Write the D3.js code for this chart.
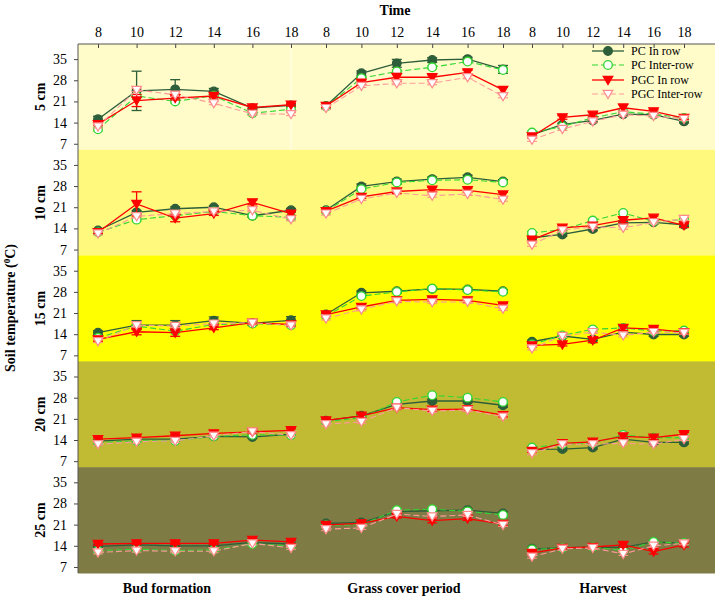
<!DOCTYPE html>
<html>
<head>
<meta charset="utf-8">
<script src="https://cdn.jsdelivr.net/npm/d3@7/dist/d3.min.js"></script>
<style>
  body { margin: 0; background: #fff; }
  svg { display: block; }
  text { font-family: "Liberation Serif", "Times New Roman", serif; }
</style>
</head>
<body>
<svg id="chart" width="719" height="599"></svg>
<script>
// ---------------- DATA ----------------
const hours = [8, 10, 12, 14, 16, 18];
const yTicks = [7, 14, 21, 28, 35];
const depths = ["5 cm", "10 cm", "15 cm", "20 cm", "25 cm"];
const periods = ["Bud formation", "Grass cover period", "Harvest"];
const seriesNames = ["PC In row", "PC Inter-row", "PGC In row", "PGC Inter-row"];

// each array: [Bud formation, Grass cover period, Harvest], values at hours 8..18
const pcIn_5   = [[15.1, 24.5, 25.0, 24.3, 18.8, 19.7], [19.5, 30.3, 33.6, 34.7, 35.0, 31.6], [10.0, 13.3, 14.7, 16.8, 16.6, 14.4]];
const pcInt_5  = [[11.8, 22.8, 21.0, 22.9, 17.1, 18.4], [19.3, 28.7, 30.9, 32.3, 34.2, 31.4], [10.7, 12.7, 15.6, 17.6, 16.8, 15.5]];
const pgcIn_5  = [[13.5, 21.3, 22.1, 22.8, 19.0, 19.9], [19.5, 27.2, 29.0, 29.0, 30.6, 24.8], [9.4, 15.7, 16.6, 18.9, 17.7, 15.5]];
const pgcInt_5 = [[12.7, 24.8, 23.2, 20.4, 16.9, 16.8], [18.8, 26.1, 27.0, 27.0, 29.0, 22.7], [8.3, 11.9, 14.4, 16.6, 16.2, 15.2]];

const pcIn_10   = [[13.3, 19.3, 20.5, 21.0, 18.2, 20.0], [20.0, 27.9, 29.5, 30.3, 30.9, 29.5], [10.9, 12.0, 13.8, 15.8, 16.0, 15.2]];
const pcInt_10  = [[12.7, 16.9, 18.2, 19.6, 18.2, 17.7], [19.7, 27.0, 29.2, 29.9, 30.1, 29.2], [12.5, 13.6, 16.6, 19.1, 16.3, 16.9]];
const pgcIn_10  = [[12.7, 22.1, 17.4, 18.9, 22.6, 18.9], [19.7, 24.4, 26.2, 26.8, 26.6, 25.2], [10.3, 14.2, 14.9, 16.7, 17.5, 15.0]];
const pgcInt_10 = [[12.3, 18.0, 18.9, 19.6, 20.0, 17.0], [18.9, 23.7, 25.7, 24.8, 25.4, 23.5], [8.6, 13.4, 14.5, 14.2, 16.0, 17.1]];

const pcIn_15   = [[14.5, 17.0, 17.0, 18.5, 17.6, 18.6], [20.5, 27.7, 28.2, 29.0, 28.8, 28.2], [11.5, 13.4, 12.3, 14.7, 13.9, 13.9]];
const pcInt_15  = [[12.8, 16.7, 15.0, 17.2, 17.5, 17.0], [20.0, 26.6, 28.0, 29.1, 28.6, 28.0], [10.6, 13.6, 15.6, 16.1, 15.0, 15.2]];
const pgcIn_15  = [[12.3, 14.8, 14.5, 16.1, 17.8, 17.2], [20.5, 23.0, 25.2, 25.5, 25.2, 23.5], [10.3, 10.6, 12.0, 16.1, 15.7, 14.7]];
const pgcInt_15 = [[11.7, 17.0, 16.7, 17.5, 17.8, 16.9], [19.2, 22.2, 24.9, 24.6, 24.7, 22.4], [9.3, 13.4, 14.7, 13.6, 14.7, 14.5]];

const pcIn_20   = [[13.6, 14.3, 14.3, 15.2, 15.0, 15.9], [20.4, 22.0, 25.8, 26.9, 26.9, 25.5], [10.9, 11.0, 11.5, 14.3, 13.2, 13.2]];
const pcInt_20  = [[13.2, 13.7, 13.7, 15.2, 15.7, 15.6], [20.0, 21.4, 26.6, 28.8, 28.0, 26.6], [11.5, 12.6, 12.9, 15.7, 14.8, 14.8]];
const pgcIn_20  = [[14.3, 14.8, 15.4, 16.2, 16.7, 17.2], [20.5, 22.0, 24.7, 24.0, 24.2, 22.2], [10.4, 12.9, 13.4, 15.2, 14.8, 15.9]];
const pgcInt_20 = [[12.6, 13.4, 13.7, 15.4, 16.8, 15.6], [19.2, 20.0, 24.7, 23.6, 23.9, 21.7], [9.6, 12.6, 12.6, 12.9, 12.6, 14.3]];

const pcIn_25   = [[13.8, 14.3, 14.0, 14.0, 15.1, 14.6], [21.4, 21.7, 25.3, 25.6, 25.8, 24.7], [13.0, 13.3, 13.6, 13.5, 15.3, 14.8]];
const pcInt_25  = [[12.4, 12.9, 12.4, 12.7, 14.6, 14.0], [20.8, 21.0, 25.8, 26.1, 25.4, 24.2], [12.8, 13.3, 13.6, 12.4, 15.3, 14.9]];
const pgcIn_25  = [[14.6, 14.8, 14.8, 14.8, 15.9, 15.3], [20.9, 21.4, 23.7, 22.3, 23.0, 21.2], [11.6, 13.3, 13.6, 14.3, 12.1, 14.3]];
const pgcInt_25 = [[11.8, 12.4, 12.2, 12.2, 14.8, 13.3], [19.5, 19.9, 24.5, 23.7, 24.2, 20.9], [10.4, 13.0, 13.3, 11.3, 14.0, 14.8]];

// standard errors (visible error bars)
const pcInErr_5  = [[1.0, 6.5, 3.2, 1.0, 0.6, 0.6], [0.5, 0.8, 1.3, 0.8, 0.6, 1.3], [0.4, 0.5, 0.5, 0.6, 0.5, 0.5]];
const pgcInErr_5 = [[0.5, 2.0, 0.6, 0.6, 0.4, 0.4], [0.5, 0.6, 1.3, 0.8, 0.7, 0.9], [0.5, 0.6, 0.7, 1.2, 0.5, 0.5]];
const pcInErr_10  = [[0.4, 0.6, 0.6, 0.5, 0.5, 0.6], [0.4, 0.8, 0.8, 0.7, 0.7, 0.6], [0.4, 0.5, 0.6, 0.7, 0.6, 0.6]];
const pgcInErr_10 = [[0.4, 4.0, 1.2, 0.6, 0.8, 0.6], [0.4, 0.5, 0.6, 0.7, 0.7, 0.7], [0.5, 0.6, 0.7, 0.8, 0.6, 0.7]];
const pcInErr_15  = [[0.6, 1.5, 1.5, 1.2, 0.6, 1.2], [0.4, 0.6, 0.6, 0.5, 0.5, 0.5], [0.5, 0.5, 0.5, 0.7, 0.6, 0.6]];
const pgcInErr_15 = [[0.6, 1.0, 1.2, 0.6, 0.6, 0.6], [0.5, 0.6, 0.6, 0.6, 0.6, 0.7], [0.6, 0.5, 0.8, 0.9, 0.6, 0.6]];
const pcInErr_20  = [[0.4, 0.4, 0.4, 0.4, 0.4, 0.4], [0.5, 0.5, 0.6, 0.6, 0.6, 0.7], [0.4, 0.5, 0.5, 0.6, 0.5, 0.5]];
const pgcInErr_20 = [[0.4, 0.4, 0.4, 0.4, 0.6, 0.5], [0.5, 0.7, 0.6, 0.6, 0.6, 0.6], [0.5, 0.5, 0.5, 0.8, 0.6, 0.6]];
const pcInErr_25  = [[0.4, 0.4, 0.4, 0.4, 0.4, 0.4], [0.5, 0.4, 0.5, 0.5, 0.5, 0.6], [0.4, 0.4, 0.4, 0.4, 0.5, 0.5]];
const pgcInErr_25 = [[0.4, 0.4, 0.4, 0.4, 0.5, 0.5], [0.5, 0.4, 0.5, 0.7, 0.6, 0.6], [0.6, 0.4, 0.4, 0.8, 0.8, 0.7]];

const rowSeries = [
  [pcIn_5, pcInt_5, pgcIn_5, pgcInt_5],
  [pcIn_10, pcInt_10, pgcIn_10, pgcInt_10],
  [pcIn_15, pcInt_15, pgcIn_15, pgcInt_15],
  [pcIn_20, pcInt_20, pgcIn_20, pgcInt_20],
  [pcIn_25, pcInt_25, pgcIn_25, pgcInt_25]
];
const rowErr = [
  [pcInErr_5, pgcInErr_5], [pcInErr_10, pgcInErr_10], [pcInErr_15, pgcInErr_15],
  [pcInErr_20, pgcInErr_20], [pcInErr_25, pgcInErr_25]
];

// ---------------- LAYOUT / STYLE ----------------
const svg = d3.select("#chart");
const plotL = 78, plotR = 715, plotT = 44, plotB = 573;
const rowH = (plotB - plotT) / depths.length;
const rowColors = ["#fffcc9", "#fffa7e", "#ffff00", "#c0bb32", "#7e7b44"];
const panelRanges = [[98, 291], [326, 503], [532, 684]];
const labelX = [167, 404, 603];

const styles = [
  { stroke: "#2d5e3a", dash: null, marker: "circle", fill: "#2d5e3a", mstroke: "#2d5e3a", width: 1.3 },
  { stroke: "#33d633", dash: "6,3", marker: "circle", fill: "#ffffff", mstroke: "#33d633", width: 1.1 },
  { stroke: "#ff0000", dash: null, marker: "tri", fill: "#ff0000", mstroke: "#ff0000", width: 1.3 },
  { stroke: "#ff9a9a", dash: "6,3", marker: "tri", fill: "#ffffff", mstroke: "#ff8a8a", width: 1.1 }
];

const xScales = panelRanges.map(r => d3.scaleLinear().domain([8, 18]).range(r));
const yScales = depths.map((d, i) => d3.scaleLinear().domain([5, 40]).range([plotT + (i + 1) * rowH, plotT + i * rowH]));

// backgrounds
svg.selectAll("rect.bg").data(depths).enter().append("rect")
  .attr("class", "bg")
  .attr("x", plotL).attr("y", (d, i) => plotT + i * rowH)
  .attr("width", plotR - plotL).attr("height", rowH + 0.5)
  .attr("fill", (d, i) => rowColors[i]);
svg.append("line").attr("x1", 291).attr("x2", 291).attr("y1", plotT).attr("y2", plotT + rowH)
  .attr("stroke", "#ffffff").attr("stroke-opacity", 0.7).attr("stroke-width", 1);

const triPath = (s) => `M${-s},${-s * 0.75}L${s},${-s * 0.75}L0,${s * 0.95}Z`;

depths.forEach((depth, ri) => {
  const y = yScales[ri];
  const g = svg.append("g");
  periods.forEach((p, pi) => {
    const x = xScales[pi];
    rowSeries[ri].forEach((ser, si) => {
      const st = styles[si];
      const vals = ser[pi];
      const pts = hours.map((h, k) => ({ h, v: vals[k], k }));
      const errArr = si === 0 ? rowErr[ri][0] : (si === 2 ? rowErr[ri][1] : null);
      if (errArr) {
        const e = errArr[pi];
        const eg = g.append("g").attr("stroke", st.stroke).attr("stroke-width", 1.3);
        pts.forEach(d => {
          const cx = x(d.h);
          const y1 = y(d.v + e[d.k]), y2 = y(d.v - e[d.k]);
          eg.append("line").attr("x1", cx).attr("x2", cx).attr("y1", y1).attr("y2", y2);
          eg.append("line").attr("x1", cx - 5).attr("x2", cx + 5).attr("y1", y1).attr("y2", y1);
          eg.append("line").attr("x1", cx - 5).attr("x2", cx + 5).attr("y1", y2).attr("y2", y2);
        });
      } else {
        const eg = g.append("g").attr("stroke", st.mstroke).attr("stroke-width", 1);
        pts.forEach(d => {
          const cx = x(d.h);
          [0.5, -0.5].forEach(o => {
            eg.append("line").attr("x1", cx - 5).attr("x2", cx + 5)
              .attr("y1", y(d.v + o)).attr("y2", y(d.v + o));
          });
        });
      }
      g.append("path").datum(pts)
        .attr("fill", "none").attr("stroke", st.stroke).attr("stroke-width", st.width)
        .attr("stroke-dasharray", st.dash)
        .attr("d", d3.line().x(d => x(d.h)).y(d => y(d.v)));
      pts.forEach(d => {
        if (st.marker === "circle") {
          g.append("circle").attr("cx", x(d.h)).attr("cy", y(d.v)).attr("r", 4.3)
            .attr("fill", st.fill).attr("stroke", st.mstroke).attr("stroke-width", 1.3);
        } else {
          g.append("path").attr("d", triPath(4.8))
            .attr("transform", `translate(${x(d.h)},${y(d.v)})`)
            .attr("fill", st.fill).attr("stroke", st.mstroke).attr("stroke-width", 1.2);
        }
      });
    });
  });

  const ax = svg.append("g").attr("transform", `translate(${plotL},0)`)
    .call(d3.axisLeft(y).tickValues(yTicks).tickSize(4).tickPadding(7));
  ax.select(".domain").remove();
  ax.selectAll("text").attr("font-size", 14).attr("font-family", "Liberation Serif, serif").attr("fill", "#000");
  ax.selectAll("line").attr("stroke", "#444");

  svg.append("text")
    .attr("transform", `translate(45,${plotT + ri * rowH + rowH / 2}) rotate(-90)`)
    .attr("text-anchor", "middle").attr("font-size", 14).attr("font-weight", "bold")
    .text(depth);
});

xScales.forEach(x => {
  const ax = svg.append("g").attr("transform", `translate(0,${plotT})`)
    .call(d3.axisTop(x).tickValues(hours).tickSize(-4).tickPadding(7));
  ax.select(".domain").remove();
  ax.selectAll("text").attr("font-size", 14).attr("font-family", "Liberation Serif, serif").attr("fill", "#000");
  ax.selectAll("line").attr("stroke", "#444");
});

svg.append("line").attr("x1", plotL).attr("x2", plotR).attr("y1", plotT).attr("y2", plotT).attr("stroke", "#555").attr("stroke-width", 1);
svg.append("line").attr("x1", plotL).attr("x2", plotL).attr("y1", plotT).attr("y2", plotB).attr("stroke", "#555").attr("stroke-width", 1);

svg.append("text").attr("x", 395).attr("y", 15).attr("text-anchor", "middle")
  .attr("font-size", 14).attr("font-weight", "bold").text("Time");

const yt = svg.append("text")
  .attr("transform", `translate(15,308) rotate(-90)`)
  .attr("text-anchor", "middle").attr("font-size", 14).attr("font-weight", "bold");
yt.append("tspan").text("Soil temperature (");
yt.append("tspan").attr("font-size", 9).attr("dy", -5).text("0");
yt.append("tspan").attr("dy", 5).text("C)");

periods.forEach((p, i) => {
  svg.append("text").attr("x", labelX[i]).attr("y", 593).attr("text-anchor", "middle")
    .attr("font-size", 14).attr("font-weight", "bold").text(p);
});

const legX1 = 592, legX2 = 624, legTx = 631;
const legY = [51, 65, 80, 94];
seriesNames.forEach((name, i) => {
  const st = styles[i];
  const lg = svg.append("g");
  lg.append("line").attr("x1", legX1).attr("x2", legX2).attr("y1", legY[i]).attr("y2", legY[i])
    .attr("stroke", st.stroke).attr("stroke-width", st.width).attr("stroke-dasharray", st.dash);
  const mx = (legX1 + legX2) / 2;
  if (st.marker === "circle") {
    lg.append("circle").attr("cx", mx).attr("cy", legY[i]).attr("r", 4.3)
      .attr("fill", st.fill).attr("stroke", st.mstroke).attr("stroke-width", 1.3);
  } else {
    lg.append("path").attr("d", triPath(4.8)).attr("transform", `translate(${mx},${legY[i]})`)
      .attr("fill", st.fill).attr("stroke", st.mstroke).attr("stroke-width", 1.2);
  }
  lg.append("text").attr("x", legTx).attr("y", legY[i] + 4).attr("font-size", 12).text(name);
});
</script>
</body>
</html>
